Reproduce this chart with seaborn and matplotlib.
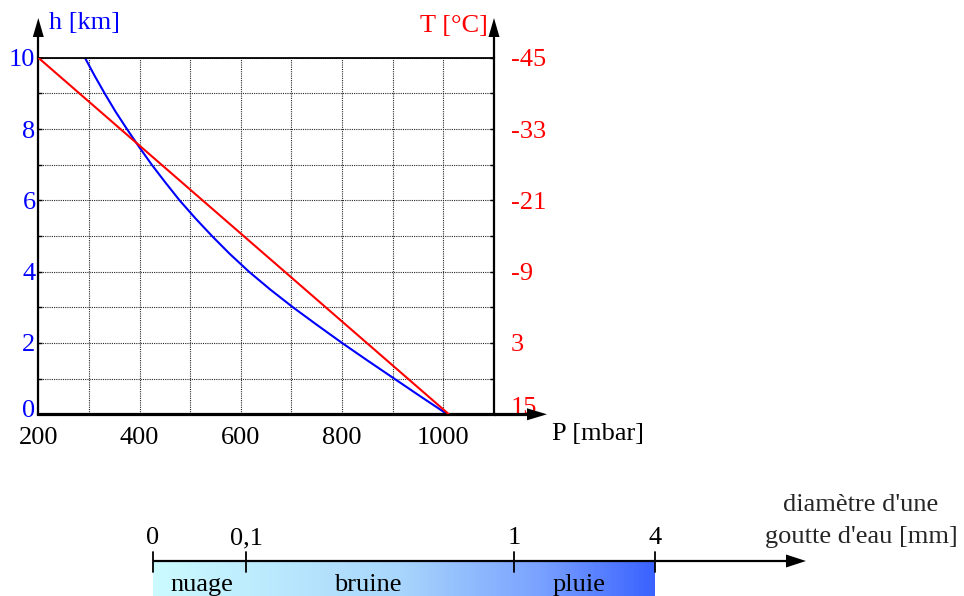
import numpy as np
import matplotlib
matplotlib.use("Agg")
import matplotlib.pyplot as plt
import matplotlib.transforms as mtransforms
from matplotlib.colors import LinearSegmentedColormap
import seaborn as sns

# ---------------- data ----------------
blue_h = [0, 0.5, 1, 1.5, 2, 2.5, 3, 3.5, 4, 4.5, 5,
          5.5, 6, 6.5, 7, 7.5, 8, 8.5, 9, 9.5, 10]                 # altitude [km]
blue_P = [1008, 955, 903, 851, 800, 751, 703, 658, 616, 578, 543,
          510, 479, 451, 424, 399, 375, 352, 331, 311, 292]        # pressure [mbar]
red_P = [200, 1011]                                               # pressure [mbar]
red_T = [-45, 15]                                                 # temperature [deg C]
x_ticks = [200, 400, 600, 800, 1000]
h_ticks = [0, 2, 4, 6, 8, 10]
T_ticks = [15, 3, -9, -21, -33, -45]
T_labels = ["15", "3", "-9", "-21", "-33", "-45"]
drop_ticks = [0, 0.1, 1, 4]
drop_labels = ["0", "0,1", "1", "4"]
zones = ["nuage", "bruine", "pluie"]

# ---------------- style ----------------
sns.set_theme(style="white")
plt.rcParams["font.family"] = ["Liberation Serif", "DejaVu Serif"]
FS = 19
BLUE = "#0000ff"
RED = "#ff0000"

W, H = 964, 596
fig = plt.figure(figsize=(W / 100, H / 100), dpi=100)
fig.patch.set_facecolor("white")

def fx(px):
    return px / W

def fy(py):
    return 1 - py / H

left, right, top, bot = 38.3, 494.0, 57.7, 414.3
ax = fig.add_axes([fx(left), fy(bot), fx(right - left), (bot - top) / H])
ax.set_facecolor("white")

sns.lineplot(x=blue_P, y=blue_h, ax=ax, color=BLUE, sort=False, lw=1.5)
ax.set_xlim(200, 1100)
ax.set_ylim(0, 10)
ax.set_xlabel("")
ax.set_ylabel("")
ax.set_xticks(x_ticks)
ax.set_xticks(np.arange(300, 1100, 100), minor=True)
ax.set_yticks(h_ticks)
ax.set_yticks([1, 3, 5, 7, 9], minor=True)
ax.grid(True, which="both", color="0.15", linestyle=(0, (1, 1)), linewidth=0.8)
ax.tick_params(axis="x", which="both", length=0, pad=9, labelsize=FS, labelcolor="black")
ax.tick_params(axis="y", which="both", direction="in", length=3, width=1,
               pad=2, labelsize=FS, labelcolor=BLUE, color="black")
for side, lw in (("left", 1.6), ("bottom", 2.3), ("top", 1.3), ("right", 1.6)):
    ax.spines[side].set_color("black")
    ax.spines[side].set_linewidth(lw)
    ax.spines[side].set_visible(True)

ax2 = ax.twinx()
sns.lineplot(x=red_P, y=red_T, ax=ax2, color=RED, sort=False, lw=1.5)
ax2.set_ylim(15, -45)
ax2.set_xlim(200, 1100)
ax2.set_ylabel("")
ax2.set_yticks(T_ticks)
ax2.set_yticklabels(T_labels)
ax2.set_yticks([9, -3, -15, -27, -39], minor=True)
ax2.tick_params(axis="y", which="both", direction="in", length=3, width=1,
                pad=12, labelsize=FS, labelcolor=RED, color="black")
for s in ax2.spines.values():
    s.set_visible(False)
ax2.grid(False)

# lift the bottom labels like in the reference
lab0 = ax.get_yticklabels()[0]
lab0.set_transform(lab0.get_transform() + mtransforms.ScaledTranslation(0, 6 / 100, fig.dpi_scale_trans))
labT = ax2.get_yticklabels()[0]
labT.set_transform(labT.get_transform() + mtransforms.ScaledTranslation(0, 9 / 100, fig.dpi_scale_trans))

# ---------------- overlay in pixel coordinates ----------------
ov = fig.add_axes([0, 0, 1, 1], zorder=10)
ov.patch.set_alpha(0)
ov.axis("off")

def arrow_head(tip, direction, length=20, half=5.5):
    tx, ty = tip
    if direction == "up":
        pts = [(tx, ty), (tx - half, ty + length), (tx + half, ty + length)]
    else:
        pts = [(tx, ty), (tx - length, ty - half), (tx - length, ty + half)]
    ov.add_patch(plt.Polygon(pts, closed=True, color="black", lw=0))

# axis arrows
ov.plot([left, left], [top, 36], color="black", lw=1.6, solid_capstyle="butt")
arrow_head((left, 18), "up", length=19)
ov.plot([right, right], [top, 36], color="black", lw=1.6, solid_capstyle="butt")
arrow_head((right, 18), "up", length=19)
ov.plot([right, 528], [bot, bot], color="black", lw=2.3, solid_capstyle="butt")
arrow_head((547, bot), "right", length=20, half=6)

ov.text(49, 29.3, "h [km]", color=BLUE, fontsize=FS, va="baseline", ha="left")
ov.text(420, 31.7, "T [°C]", color=RED, fontsize=FS, va="baseline", ha="left")
ov.text(552, 440, "P [mbar]", color="black", fontsize=FS, va="baseline", ha="left")

# ---------------- drop-size scale ----------------
drop_px = {0: 153, 0.1: 246, 1: 514, 4: 655}   # layout of the non-linear scale
zone_px = [202, 368, 579]
y_line = 561
stops = [(0.0, "#ccfbff"), (0.49, "#a8d6fc"), (0.77, "#7aa2ff"), (1.0, "#3a62ff")]
cmap = LinearSegmentedColormap.from_list("drop", stops)
grad = np.linspace(0, 1, 512).reshape(1, -1)
ov.imshow(grad, cmap=cmap, extent=[drop_px[0], drop_px[4], 597, y_line],
          aspect="auto", interpolation="bilinear", zorder=1)

ov.plot([drop_px[0], 788], [y_line, y_line], color="black", lw=1.6, zorder=3,
        solid_capstyle="butt")
arrow_head((806, y_line), "right", length=20, half=6.5)
for v, lab in zip(drop_ticks, drop_labels):
    xp = drop_px[v]
    ov.plot([xp, xp], [551.5, 571.5], color="black", lw=1.3, zorder=3)
    ov.text(xp, 544, lab, fontsize=FS, ha="center", va="baseline", color="black")
for name, xp in zip(zones, zone_px):
    ov.text(xp, 591, name, fontsize=FS, ha="center", va="baseline", color="black", zorder=4)

ov.text(861, 510.7, "diamètre d'une", fontsize=FS, ha="center", va="baseline")
ov.text(861, 543.5, "goutte d'eau [mm]", fontsize=FS, ha="center", va="baseline")

ov.set_xlim(0, W)
ov.set_ylim(H, 0)

fig.savefig("out.png", dpi=100)
